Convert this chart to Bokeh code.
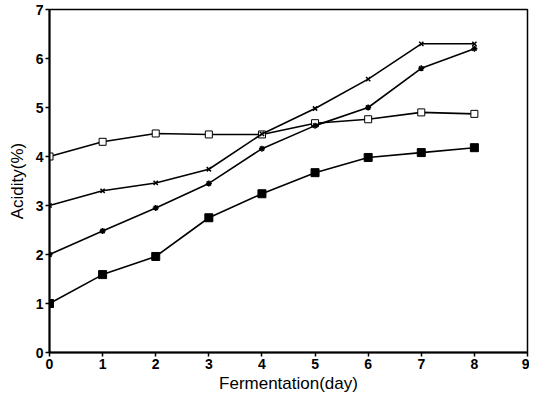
from bokeh.plotting import figure
from bokeh.models import Range1d, FixedTicker
from bokeh.embed import file_html
from bokeh.resources import INLINE

days = [0, 1, 2, 3, 4, 5, 6, 7, 8]
series_open_sq = [4.0, 4.3, 4.47, 4.45, 4.45, 4.68, 4.76, 4.9, 4.87]
series_x = [3.0, 3.3, 3.46, 3.74, 4.46, 4.98, 5.58, 6.3, 6.3]
series_plus = [2.0, 2.48, 2.95, 3.45, 4.16, 4.63, 5.0, 5.8, 6.2]
series_fill_sq = [1.0, 1.59, 1.96, 2.75, 3.24, 3.67, 3.98, 4.08, 4.18]
x_ticks = [0, 1, 2, 3, 4, 5, 6, 7, 8, 9]
y_ticks = [0, 1, 2, 3, 4, 5, 6, 7]

p = figure(width=529, height=395, output_backend="svg", toolbar_location=None,
           x_range=Range1d(0, 9), y_range=Range1d(0, 7),
           min_border_left=49, min_border_right=2, min_border_top=9, min_border_bottom=40)
p.grid.visible = False
p.outline_line_color = "black"
p.outline_line_width = 1.5
p.background_fill_color = "white"
p.border_fill_color = "white"

for ax in (p.xaxis[0], p.yaxis[0]):
    ax.ticker = FixedTicker(ticks=x_ticks if ax is p.xaxis[0] else y_ticks)
    ax.axis_line_width = 2
    ax.axis_line_color = "black"
    ax.major_tick_in = 0
    ax.major_tick_out = 4
    ax.major_tick_line_width = 1.5
    ax.minor_tick_line_color = None
    ax.major_label_text_font = "Liberation Sans"
    ax.major_label_text_font_style = "bold"
    ax.major_label_text_font_size = "14px"
    ax.major_label_text_color = "black"
    ax.axis_label_text_font = "Liberation Sans"
    ax.axis_label_text_font_style = "normal"
    ax.axis_label_text_font_size = "17px"
    ax.axis_label_text_color = "black"

p.xaxis.axis_label = "Fermentation(day)"
p.yaxis.axis_label = "Acidity(%)"
p.xaxis.major_label_standoff = 2
p.yaxis.major_label_standoff = 2
p.xaxis.axis_label_standoff = 2
p.yaxis.axis_label_standoff = 6

lw = 1.6
p.line(days, series_open_sq, line_color="black", line_width=lw)
p.scatter(days, series_open_sq, marker="square", size=7, fill_color="white", line_color="black", line_width=1)

p.line(days, series_x, line_color="black", line_width=lw)
p.scatter(days, series_x, marker="x", size=6, line_color="black", line_width=1.5)

p.line(days, series_plus, line_color="black", line_width=lw)
p.scatter(days, series_plus, marker="asterisk", size=6, line_color="black", line_width=1.5)

p.line(days, series_fill_sq, line_color="black", line_width=lw)
p.scatter(days, series_fill_sq, marker="square", size=8, fill_color="black", line_color="black")

open("out.html", "w").write(file_html(p, INLINE))
